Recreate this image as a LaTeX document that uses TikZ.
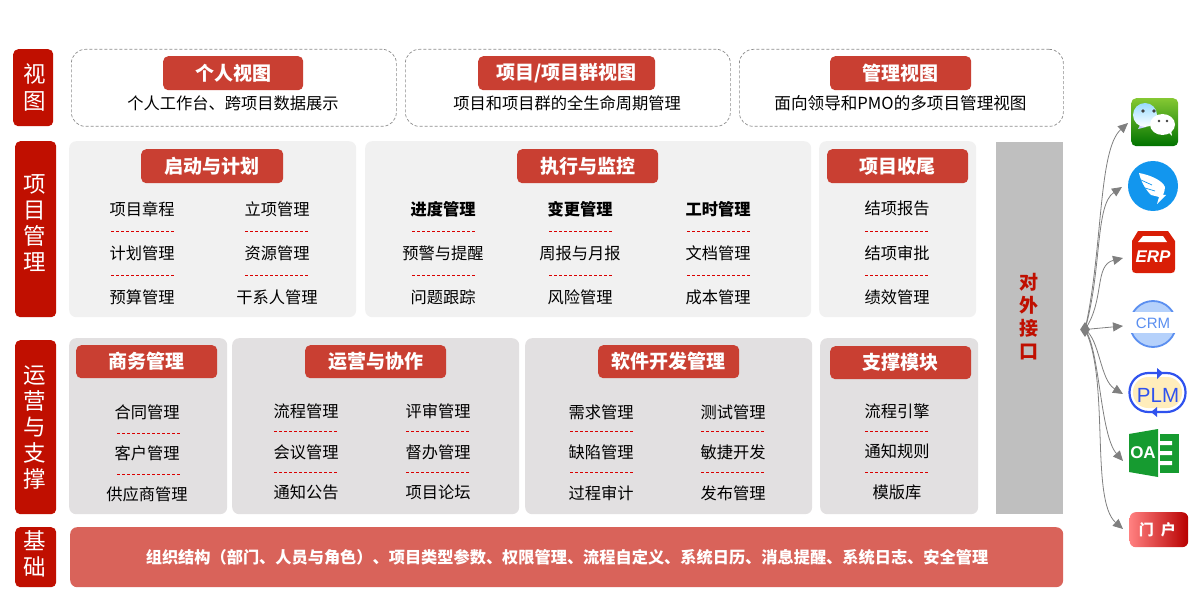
\documentclass[tikz,border=0pt]{standalone}
\usepackage{fontspec}
\setmainfont{Noto Sans CJK SC}
\newfontfamily\logofont{Liberation Sans}
\usetikzlibrary{arrows.meta,shapes.geometric,calc}
\definecolor{sidered}{HTML}{C00F00}
\definecolor{titlered}{HTML}{C93F32}
\definecolor{baser}{HTML}{D9635A}
\definecolor{panela}{HTML}{F1F1F1}
\definecolor{panelb}{HTML}{E2E0E1}
\definecolor{dashg}{HTML}{8C8C8C}
\definecolor{arrowg}{HTML}{7F7F7F}
\definecolor{dingblue}{HTML}{1296EE}
\definecolor{erpred}{HTML}{D91E06}
\definecolor{crmblue}{HTML}{5B8FF0}
\definecolor{crmfill}{HTML}{B5D1FB}
\definecolor{plmblue}{HTML}{2F52EE}
\definecolor{plmfill}{HTML}{FFEDBB}
\definecolor{oagreen}{HTML}{169B30}
\tikzset{
  x=1pt,y=-1pt,
  sidebox/.style={draw=none,fill=sidered,rounded corners=5pt,inner sep=0pt,anchor=north west},
  sidetext/.style={inner sep=0pt,text=white,align=center,font=\fontsize{22.5}{26}\selectfont},
  viewbox/.style={draw=dashg,dash pattern=on 3pt off 2pt,line width=0.7pt,rounded corners=14pt,fill=white,inner sep=0pt,anchor=north west},
  panelA/.style={fill=panela,rounded corners=7pt,inner sep=0pt,anchor=north west},
  panelB/.style={fill=panelb,rounded corners=7pt,inner sep=0pt,anchor=north west},
  titlebox/.style={fill=titlered,rounded corners=5pt,inner sep=0pt,anchor=north west,text=white,font=\fontsize{19}{20}\selectfont\bfseries},
  item/.style={inner sep=0pt,text=black,font=\fontsize{16.25}{18}\selectfont},
  itemb/.style={item,font=\fontsize{16.25}{18}\selectfont\bfseries},
  sep/.style={draw=red!85!black,line width=0.8pt,dash pattern=on 3pt off 2pt},
  link/.style={draw=arrowg,line width=0.8pt,-{Triangle[length=10pt,width=9pt]}},
}
\newcommand{\boxat}[6]{\node[#1,minimum width=#5-#3,minimum height=#6-#4] (#2) at (#3,#4)}
\newcommand{\sepline}[3]{\draw[sep] (#1,#3+.5) -- (#2,#3+.5);}
\begin{document}
\begin{tikzpicture}
\useasboundingbox (0,0) rectangle (1200,591);
% side labels
\boxat{sidebox}{sv}{13}{49}{53}{126} {};
\boxat{sidebox}{sp}{15}{141}{56}{317} {};
\boxat{sidebox}{so}{15}{340}{56}{514} {};
\boxat{sidebox}{sb}{15}{527}{56}{587} {};
\node[sidetext,font=\fontsize{22.5}{27}\selectfont] (svt) at (35,87.5) {视\\图};
\node[sidetext] (spt) at (35,223.5) {项\\目\\管\\理};
\node[sidetext] (sot) at (35,428) {运\\营\\与\\支\\撑};
\node[sidetext] (sbt) at (35,554) {基\\础};
% view row
\boxat{viewbox}{v1}{71}{49}{396}{126} {};
\boxat{viewbox}{v2}{405}{49}{730}{126} {};
\boxat{viewbox}{v3}{739}{49}{1063}{126} {};
\boxat{titlebox}{t1}{163}{56}{303}{90} {个人视图};
\boxat{titlebox}{t2}{478}{56}{655}{90} {项目/项目群视图};
\boxat{titlebox}{t3}{830}{56}{971}{90} {管理视图};
\node[item] (d1) at (233,103) {个人工作台、跨项目数据展示};
\node[item] (d2) at (567,103) {项目和项目群的全生命周期管理};
\node[item,font=\fontsize{16.6}{18}\selectfont] (d3) at (900.5,103) {面向领导和PMO的多项目管理视图};
% panels
\boxat{panelA}{p1}{69}{141}{356}{317} {};
\boxat{panelA}{p2}{365}{141}{811}{317} {};
\boxat{panelA}{p3}{819}{141}{976}{317} {};
\boxat{titlebox}{t4}{141}{149}{283}{183} {启动与计划};
\boxat{titlebox}{t5}{517}{149}{658}{183} {执行与监控};
\boxat{titlebox}{t6}{827}{149}{968}{183} {项目收尾};
\boxat{panelB}{q1}{69}{338}{227}{514} {};
\boxat{panelB}{q2}{232}{338}{519}{514} {};
\boxat{panelB}{q3}{525}{338}{812}{514} {};
\boxat{panelB}{q4}{820}{338}{978}{514} {};
\boxat{titlebox}{t7}{76}{345}{217}{378} {商务管理};
\boxat{titlebox}{t8}{305}{345}{446}{378} {运营与协作};
\boxat{titlebox}{t9}{598}{345}{739}{378} {软件开发管理};
\boxat{titlebox}{t10}{830}{346}{971}{379} {支撑模块};
% items
\foreach \n/\x/\y/\s in {a1/142/209/项目章程,a2/277/209/立项管理,a3/142/253/计划管理,a4/277/253/资源管理,a5/142/297/预算管理,a6/277/297/干系人管理,
  b4/443/253/预警与提醒,b5/580/253/周报与月报,b6/718/253/文档管理,b7/443/297/问题跟踪,b8/580/297/风险管理,b9/718/297/成本管理,
  c1/897/208/结项报告,c2/897/253/结项审批,c3/897/297/绩效管理,
  e1/147/412/合同管理,e2/147/453/客户管理,e3/147/494/供应商管理,
  f1/306/411/流程管理,f2/306/452/会议管理,f3/306/492/通知公告,f4/438/411/评审管理,f5/438/452/督办管理,f6/438/492/项目论坛,
  g1/601/412/需求管理,g2/601/452/缺陷管理,g3/601/493/过程审计,g4/733/412/测试管理,g5/733/452/敏捷开发,g6/733/493/发布管理,
  h1/897/411/流程引擎,h2/897/451/通知规则,h3/897/492/模版库}
  {\node[item] (\n) at (\x,\y) {\s};}
\foreach \n/\x/\s in {b1/443/进度管理,b2/580/变更管理,b3/718/工时管理}
  {\node[itemb] (\n) at (\x,209) {\s};}
% separators
\foreach \x in {111,245,412,549,687,865}{\sepline{\x}{\x+63}{231}\sepline{\x}{\x+63}{275}}
\foreach \x in {117}{\sepline{\x}{\x+63}{433}\sepline{\x}{\x+63}{474}}
\foreach \x in {274,406,570,701,865}{\sepline{\x}{\x+63}{431}\sepline{\x}{\x+63}{472}}
% interface
\node[fill=black!25,inner sep=0pt,anchor=north west,minimum width=67,minimum height=372] (api) at (996,142) {};
\node[inner sep=0pt,text=sidered,align=center,font=\fontsize{19}{23}\selectfont\bfseries] (apit) at (1029,317) {对\\外\\接\\口};
% base
\boxat{panelA,fill=baser}{base}{70}{527}{1063}{587} {};
\node[itemb,font=\fontsize{16.2}{18}\selectfont\bfseries,text=white] (baset) at (567,557) {组织结构（部门、人员与角色）、项目类型参数、权限管理、流程自定义、系统日历、消息提醒、系统日志、安全管理};
% hub and links
\node[diamond,fill=arrowg,minimum width=10,minimum height=15,inner sep=0pt] (hub) at (1085,329.5) {};
\coordinate (e1) at (1128,123);
\coordinate (e2) at (1122,187);
\coordinate (e3) at (1123,258);
\coordinate (e4) at (1123,326);
\coordinate (e5) at (1123,394);
\coordinate (e6) at (1123,461);
\coordinate (e7) at (1123,529);
\path[link] (hub.center) .. controls (1103,250) and (1098,150) .. (e1);
\path[link] (hub.center) .. controls (1102,270) and (1095,205) .. (e2);
\path[link] (hub.center) .. controls (1105,300) and (1094,265) .. (e3);
\path[link] (hub.center) -- (e4);
\path[link] (hub.center) .. controls (1100,340) and (1100,380) .. (e5);
\path[link] (hub.center) .. controls (1100,350) and (1100,435) .. (e6);
\path[link] (hub.center) .. controls (1110,380) and (1090,500) .. (e7);
% WeChat
\node[rounded corners=5pt,inner sep=0pt,minimum width=47,minimum height=48,anchor=north west,top color=green!55!black!60!yellow!80!white,bottom color=green!45!black] (wx) at (1131,98) {};
\fill[blue!20!white] (1140,125) -- (1138,129) -- (1146,127) -- cycle;
\shade[top color=blue!35!cyan!40!white,bottom color=white] (1145,115) ellipse (12 and 12);
\fill[black!75] (1143,111) circle (1.8) (1154,111) circle (1.8);
\fill[white] (1168,132) -- (1172,136) -- (1171,130) -- cycle;
\fill[white] (1162.5,124.5) ellipse (12.5 and 10.5);
\fill[black!75] (1159,121) circle (1.4) (1167,121) circle (1.4);
% Dingtalk
\node[circle,fill=dingblue,minimum size=50,inner sep=0pt] (dd) at (1153,186) {};
\fill[white] (1139,173) .. controls (1150,175) and (1162,180) .. (1165,187) .. controls (1165,190) and (1164,193) .. (1163,195) -- (1166,195) -- (1157,204) -- (1159,197) -- (1151,195) .. controls (1146,190) and (1141,182) .. (1139,173) -- cycle;
\draw[dingblue,line width=0.7pt] (1141,180) -- (1152,185) (1145,188) -- (1155,191);
% ERP
\fill[erpred] (1138,231) -- (1168,231) -- (1175,241) -- (1175,269) .. controls (1175,272) and (1174,273) .. (1171,273) -- (1136,273) .. controls (1133,273) and (1132,272) .. (1132,269) -- (1132,241) -- cycle;
\fill[white] (1143,236) -- (1163,236) -- (1167,242) -- (1138,242) -- cycle;
\node[inner sep=0pt,text=white,font=\logofont\fontsize{17}{17}\selectfont\bfseries\itshape] (erp) at (1153,257) {ERP};
% CRM
\node[circle,draw=crmblue,fill=crmfill,line width=1.8pt,minimum size=46,inner sep=0pt] (crmc) at (1153,324) {};
\fill[white] (1125,312) rectangle (1181,333);
\node[inner sep=0pt,text=crmblue,font=\logofont\fontsize{15}{15}\selectfont] (crm) at (1153,323.5) {CRM};
% PLM
\node[rounded corners=19pt,draw=plmblue,fill=white,line width=2.2pt,minimum width=56,minimum height=39,inner sep=0pt] (plm) at (1157.5,392.5) {};
\fill[plmfill,rounded corners=15pt] (1133,377) rectangle (1182,408);
\fill[plmblue] (1157,368) -- (1163,373) -- (1157,379) -- cycle;
\fill[plmblue] (1157,407) -- (1151,412) -- (1157,417) -- cycle;
\node[inner sep=0pt,text=plmblue,font=\logofont\fontsize{20.5}{20.5}\selectfont] (plmt) at (1158,395) {PLM};
% OA
\fill[oagreen] (1129,434) -- (1158,429) -- (1158,477) -- (1129,472) -- cycle;
\fill[oagreen] (1160,434) -- (1179,434) -- (1179,473) -- (1160,473) -- cycle;
\fill[white] (1160,441) rectangle (1172,445) (1160,451) rectangle (1172,455) (1160,461) rectangle (1172,465);
\node[inner sep=0pt,text=white,font=\logofont\fontsize{17}{17}\selectfont\bfseries] (oa) at (1143,453) {OA};
% portal
\node[rounded corners=6pt,inner sep=0pt,minimum width=58.5,minimum height=35,anchor=north west,left color=red!50!white,right color=red!72!black,text=white,font=\fontsize{15}{15}\selectfont\bfseries] (mh) at (1129.5,512) {\hspace{-3pt}门\hspace{7pt}户};
\end{tikzpicture}
\end{document}
